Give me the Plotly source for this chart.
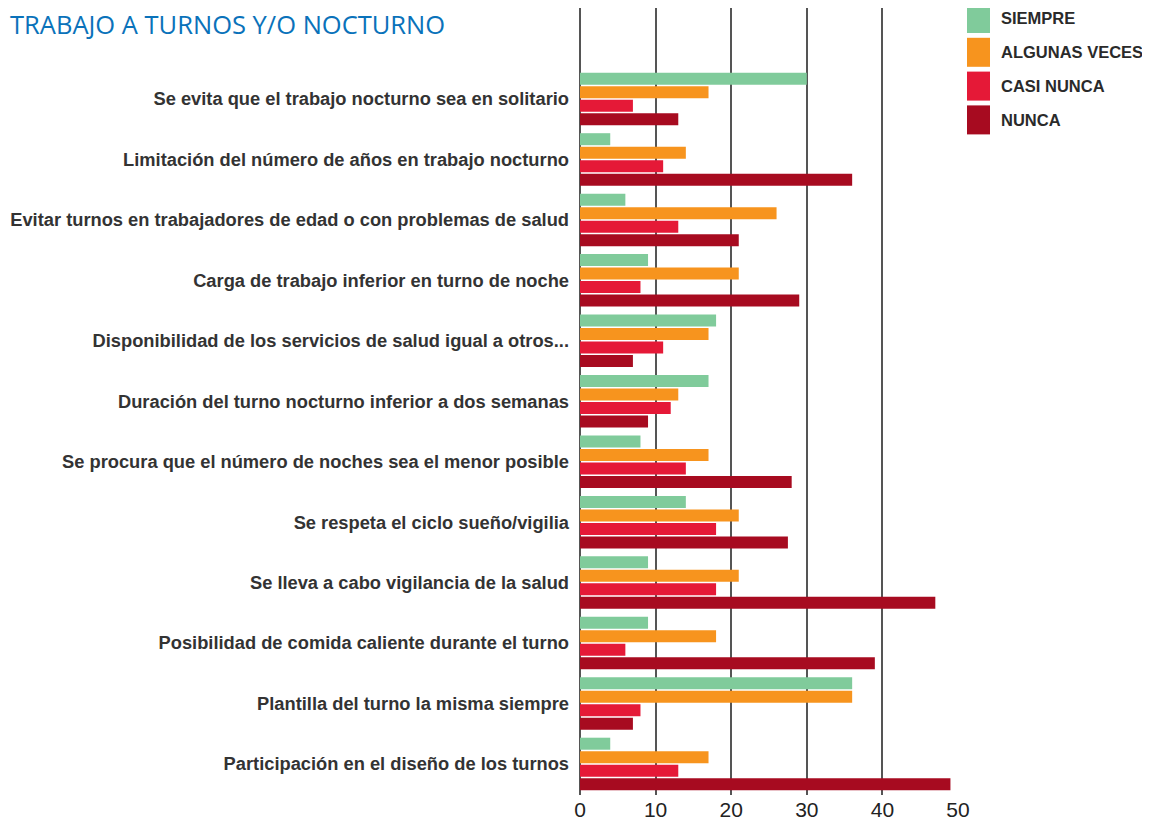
import plotly.graph_objects as go

# categorías (de arriba a abajo)
categorias = [
    "Se evita que el trabajo nocturno sea en solitario",
    "Limitación del número de años en trabajo nocturno",
    "Evitar turnos en trabajadores de edad o con problemas de salud",
    "Carga de trabajo inferior en turno de noche",
    "Disponibilidad de los servicios de salud igual a otros...",
    "Duración del turno nocturno inferior a dos semanas",
    "Se procura que el número de noches sea el menor posible",
    "Se respeta el ciclo sueño/vigilia",
    "Se lleva a cabo vigilancia de la salud",
    "Posibilidad de comida caliente durante el turno",
    "Plantilla del turno la misma siempre",
    "Participación en el diseño de los turnos",
]

siempre        = [30, 4, 6, 9, 18, 17, 8, 14, 9, 9, 36, 4]
algunas_veces  = [17, 14, 26, 21, 17, 13, 17, 21, 21, 18, 36, 17]
casi_nunca     = [7, 11, 13, 8, 11, 12, 14, 18, 18, 6, 8, 13]
nunca          = [13, 36, 21, 29, 7, 9, 28, 27.5, 47, 39, 7, 49]

series = [
    ("SIEMPRE", siempre, "#80cb9b"),
    ("ALGUNAS VECES", algunas_veces, "#f7941e"),
    ("CASI NUNCA", casi_nunca, "#e51937"),
    ("NUNCA", nunca, "#a70b20"),
]

fig = go.Figure()

for nombre, valores, color in series:
    fig.add_trace(
        go.Bar(
            y=categorias,
            x=valores,
            name=nombre,
            orientation="h",
            marker=dict(color=color, line=dict(width=0)),
        )
    )

# la página añade 8px de margen al body, se compensa aquí
OFF = 8
W, H = 1150 - OFF, 820 - OFF
L, R, T, B = 580 - OFF, 192, 0, 25
pw, ph = W - L - R, H - T - B


def px_x(px):
    # px en coordenadas de la captura
    return (px - OFF - L) / pw


def px_y(py):
    return (H - B - (py - OFF)) / ph


# leyenda dibujada a mano (cuadros grandes como en el original)
shapes = []
annotations = []
for i, (nombre, _, color) in enumerate(series):
    top = 4 + i * 33.8
    shapes.append(
        dict(
            type="rect", xref="paper", yref="paper",
            x0=px_x(967), x1=px_x(990), y0=px_y(top + 29), y1=px_y(top),
            fillcolor=color, line=dict(width=0), layer="above",
        )
    )
    annotations.append(
        dict(
            xref="paper", yref="paper", x=px_x(999), y=px_y(top + 14.5),
            text=nombre, showarrow=False, xanchor="left", yanchor="middle",
            font=dict(family="Liberation Sans, Arial", size=16.5,
                      color="#2a2a2a", weight="bold"),
        )
    )

# centro de la primera categoría en y=99px, paso 60.45px
y_top = (OFF - 99) / 60.45
y_bot = (795 - 99) / 60.45

fig.update_layout(
    title=dict(
        text="TRABAJO A TURNOS Y/O NOCTURNO",
        xref="container", yref="container",
        x=(10 - OFF) / W, y=1 - (25 - OFF) / H, xanchor="left", yanchor="middle",
        font=dict(family="Open Sans", size=25.5, color="#0a72ba"),
    ),
    barmode="group",
    bargap=0.107,
    bargroupgap=0.11,
    showlegend=False,
    plot_bgcolor="white",
    paper_bgcolor="white",
    width=W,
    height=H,
    margin=dict(l=L, r=R, t=T, b=B, pad=0),
    shapes=shapes,
    annotations=annotations,
    xaxis=dict(
        range=[0, 50],
        tickvals=[0, 10, 20, 30, 40, 50],
        showgrid=True,
        gridcolor="#555555",
        gridwidth=1.5,
        zeroline=True,
        zerolinecolor="#555555",
        zerolinewidth=1.5,
        showline=False,
        ticks="",
        tickfont=dict(family="Liberation Sans, Arial", size=21, color="#222222"),
        layer="below traces",
    ),
    yaxis=dict(
        categoryorder="array",
        categoryarray=categorias,
        range=[y_bot, y_top],
        showgrid=False,
        zeroline=False,
        showline=False,
        ticks="",
        ticklabelstandoff=10,
        tickfont=dict(family="Liberation Sans, Arial", size=18.3,
                      color="#333333", weight="bold"),
    ),
)

fig.write_html("out.html")
